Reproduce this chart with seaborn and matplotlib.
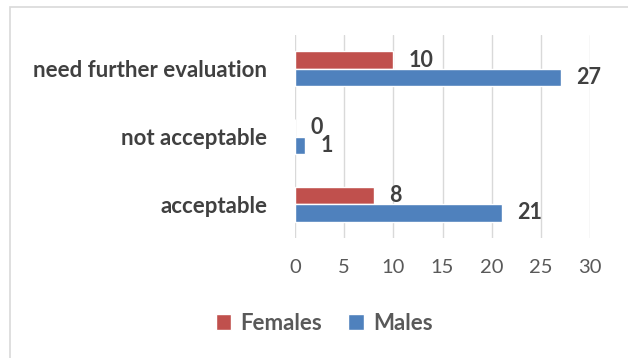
import matplotlib
matplotlib.use("Agg")
import matplotlib.pyplot as plt
import seaborn as sns
import pandas as pd
from matplotlib.patches import Rectangle

categories = ["need further evaluation", "not acceptable", "acceptable"]
females = [10, 0, 8]
males = [27, 1, 21]
series_names = ["Females", "Males"]
x_ticks = [0, 5, 10, 15, 20, 25, 30]

df = pd.DataFrame({
    "category": categories * 2,
    "value": females + males,
    "sex": [series_names[0]] * 3 + [series_names[1]] * 3,
})

sns.set_theme(style="white")
plt.rcParams["font.family"] = ["Lato", "DejaVu Sans"]

fig = plt.figure(figsize=(6.28, 3.58), dpi=100)
fig.patches.append(Rectangle((10 / 628, -0.1), 1.2, 1 - 7 / 358 + 0.1,
                             transform=fig.transFigure, fill=False,
                             edgecolor="#D9D9D9", linewidth=1.2))
ax = fig.add_axes([295 / 628, 1 - 238 / 358, (590 - 295) / 628, (238 - 35) / 358])

sns.barplot(data=df, y="category", x="value", hue="sex", order=categories,
            hue_order=series_names, palette=["#C0504D", "#4F81BD"],
            orient="h", width=0.52, ax=ax, saturation=1, legend=True)

for cont in ax.containers:
    ax.bar_label(cont, padding=11, fontsize=15.5, fontweight="bold", color="#404040")

ax.set_xlim(0, 30)
ax.set_xticks(x_ticks)
ax.set_ylim(2.5, -0.5)
ax.set_xlabel("")
ax.set_ylabel("")
ax.xaxis.grid(True, color="#D9D9D9", linewidth=1)
ax.set_axisbelow(True)
for s in ax.spines.values():
    s.set_visible(False)
ax.tick_params(axis="x", length=0, pad=15, labelsize=14.5, labelcolor="#595959")
ax.tick_params(axis="y", length=0, pad=20, labelsize=16, labelcolor="#404040")
for t in ax.get_yticklabels():
    t.set_fontweight("bold")

handles, labels = ax.get_legend_handles_labels()
ax.legend(handles, labels, loc="center", bbox_to_anchor=(324 / 628, 1 - 323 / 358),
          bbox_transform=fig.transFigure, ncol=2, frameon=False,
          handlelength=0.7, handleheight=0.7, handletextpad=0.4, columnspacing=1.2,
          prop={"weight": "bold", "size": 16}, labelcolor="#595959")

fig.savefig("out.png", dpi=100)
